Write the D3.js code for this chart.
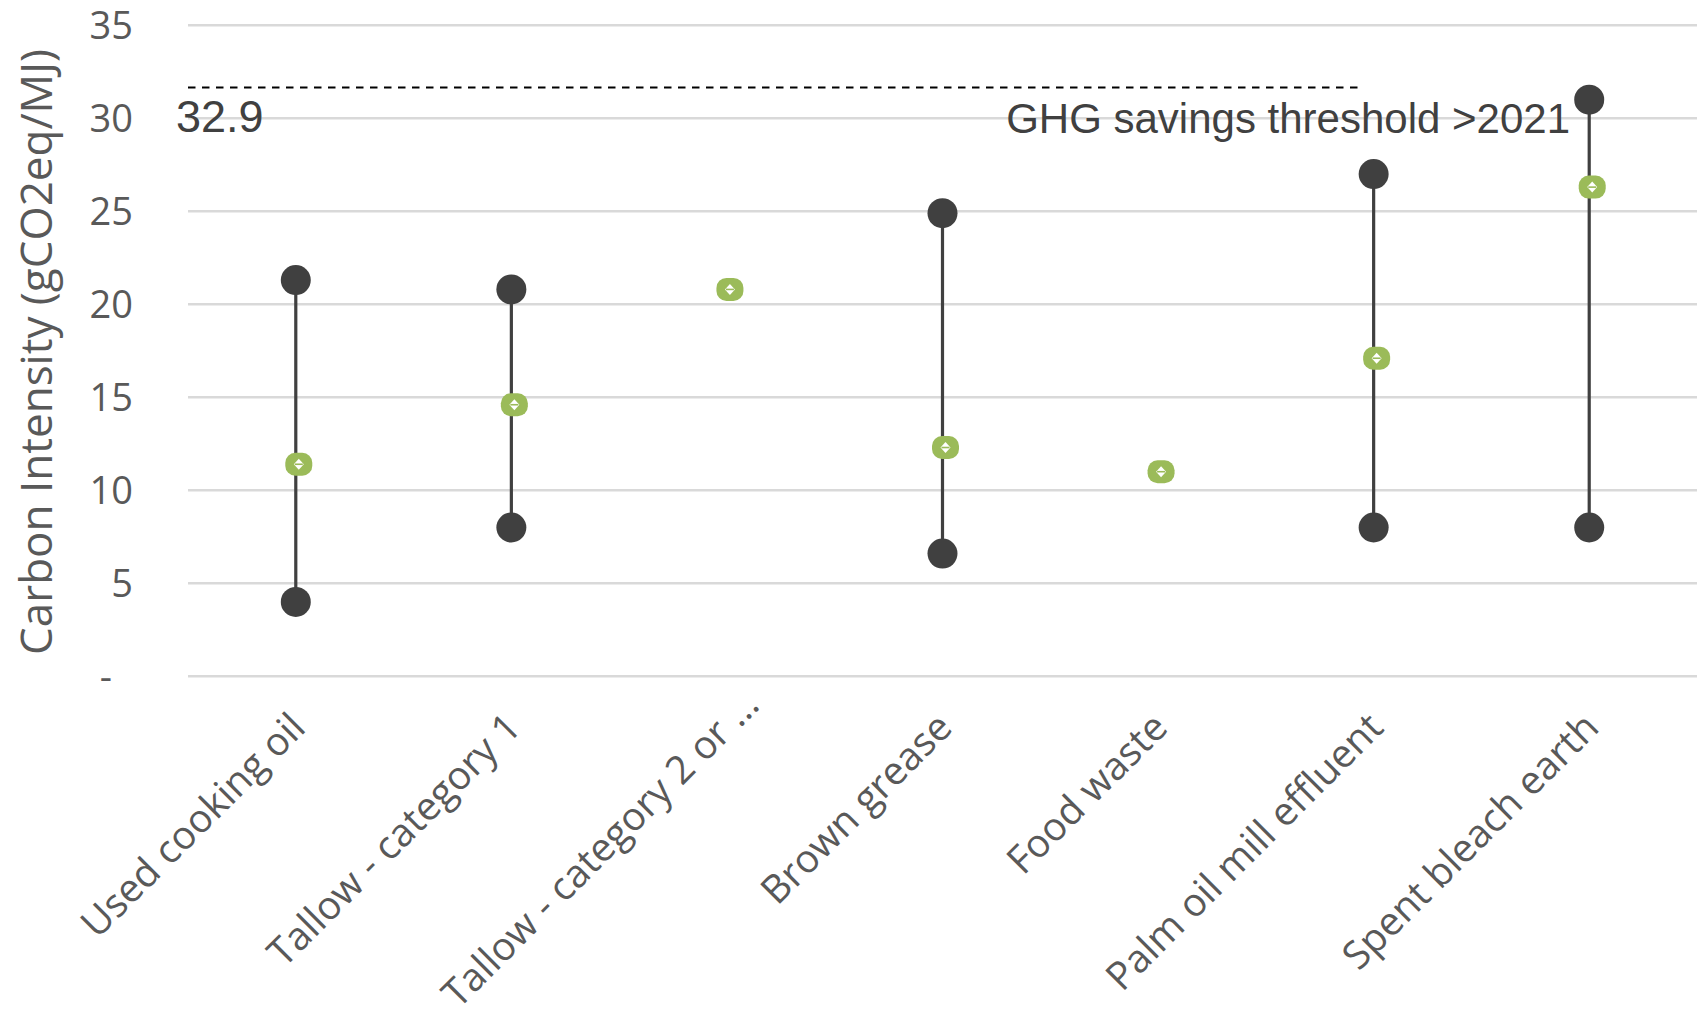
<!DOCTYPE html>
<html>
<head>
<meta charset="utf-8">
<script src="https://cdn.jsdelivr.net/npm/d3@7"></script>
<style>
  html, body { margin: 0; padding: 0; background: #fff; }
  svg { display: block; }
</style>
</head>
<body>
<div id="chart"></div>
<script>
// ---- data ----
const categories = ["Used cooking oil", "Tallow - category 1", "Tallow - category 2 or \u2026",
  "Brown grease", "Food waste", "Palm oil mill effluent", "Spent bleach earth"];
const minValues  = [4.0, 8.0, null, 6.6, null, 8.0, 8.0];
const maxValues  = [21.3, 20.8, null, 24.9, null, 27.0, 31.0];
const midValues  = [11.4, 14.6, 20.8, 12.3, 11.0, 17.1, 26.3];
const yTicks     = [0, 5, 10, 15, 20, 25, 30, 35];
const thresholdValue = 31.65;
const thresholdLabel = "32.9";
const thresholdText  = "GHG savings threshold >2021";
const yAxisTitle = "Carbon Intensity (gCO2eq/MJ)";

// ---- layout ----
const W = 1700, H = 1015;
const plot = { left: 188, right: 1697, top: 25.3, bottom: 676.3 };

const svg = d3.select("#chart").append("svg").attr("width", W).attr("height", H);

const x = d3.scaleBand().domain(categories).range([plot.left, plot.right]).padding(0);
const y = d3.scaleLinear().domain([0, 35]).range([plot.bottom, plot.top]);
const cx = d => x(d) + x.bandwidth() / 2;

// gridlines
svg.append("g").selectAll("line").data(yTicks).join("line")
  .attr("x1", plot.left).attr("x2", plot.right)
  .attr("y1", d => y(d)).attr("y2", d => y(d))
  .attr("stroke", "#d9d9d9").attr("stroke-width", 2.6);

// y tick labels
svg.append("g").selectAll("text").data(yTicks).join("text")
  .attr("x", 133).attr("y", d => y(d))
  .attr("dx", d => d === 0 ? "-0.55em" : 0)
  .attr("dy", "0.36em")
  .attr("text-anchor", "end")
  .attr("font-family", "'Open Sans', sans-serif")
  .attr("font-size", 38)
  .attr("fill", "#595959")
  .text(d => d === 0 ? "-" : d3.format("d")(d));

// y axis title
svg.append("text")
  .attr("transform", `translate(52, 352) rotate(-90)`)
  .attr("text-anchor", "middle")
  .attr("font-family", "'Open Sans', sans-serif")
  .attr("font-size", 44)
  .attr("fill", "#595959")
  .text(yAxisTitle);

// x category labels (truncated labels sit a little further along their baseline)
svg.append("g").selectAll("text").data(categories).join("text")
  .attr("transform", d => `translate(${cx(d) - 9}, 709) rotate(-45)`)
  .attr("dx", d => d.endsWith("\u2026") ? 32 : 0)
  .attr("dy", "0.75em")
  .attr("text-anchor", "end")
  .attr("font-family", "'Open Sans', sans-serif")
  .attr("font-size", 39)
  .attr("fill", "#595959")
  .text(d => d);

// threshold dashed line
svg.append("line")
  .attr("x1", plot.left).attr("x2", 1362)
  .attr("y1", y(thresholdValue)).attr("y2", y(thresholdValue))
  .attr("stroke", "#000").attr("stroke-width", 2)
  .attr("stroke-dasharray", "7.5,6.5");

svg.append("text")
  .attr("x", 176).attr("y", 132)
  .attr("font-family", "'Liberation Sans', Arial, sans-serif")
  .attr("font-size", 45)
  .attr("fill", "#404040")
  .text(thresholdLabel);

svg.append("text")
  .attr("x", 1570).attr("y", 133)
  .attr("text-anchor", "end")
  .attr("font-family", "'Liberation Sans', Arial, sans-serif")
  .attr("font-size", 42)
  .attr("fill", "#404040")
  .text(thresholdText);

// range lines + end dots
const ranges = categories.map((c, i) => ({ c, lo: minValues[i], hi: maxValues[i] }))
  .filter(d => d.lo != null && d.hi != null);

svg.append("g").selectAll("line").data(ranges).join("line")
  .attr("x1", d => cx(d.c)).attr("x2", d => cx(d.c))
  .attr("y1", d => y(d.lo)).attr("y2", d => y(d.hi))
  .attr("stroke", "#404040").attr("stroke-width", 3.2);

const dots = [];
ranges.forEach(d => { dots.push({ c: d.c, v: d.lo }); dots.push({ c: d.c, v: d.hi }); });
svg.append("g").selectAll("circle").data(dots).join("circle")
  .attr("cx", d => cx(d.c)).attr("cy", d => y(d.v))
  .attr("r", 15).attr("fill", "#404040");

// mid markers
const mids = categories.map((c, i) => ({ c, v: midValues[i] })).filter(d => d.v != null);
const mg = svg.append("g").selectAll("g").data(mids).join("g")
  .attr("transform", d => `translate(${cx(d.c) + 3}, ${y(d.v)})`);
mg.append("rect")
  .attr("x", -13.5).attr("y", -11.5).attr("width", 27).attr("height", 23)
  .attr("rx", 10).attr("ry", 10)
  .attr("fill", "#9bbb59");
mg.append("path")
  .attr("d", "M0,-5.5 L5,0 L0,5.5 L-5,0 Z")
  .attr("fill", "#fff");
mg.append("line")
  .attr("x1", -4).attr("x2", 4).attr("y1", 0).attr("y2", 0)
  .attr("stroke", "#9bbb59").attr("stroke-width", 1.6);
</script>
</body>
</html>
